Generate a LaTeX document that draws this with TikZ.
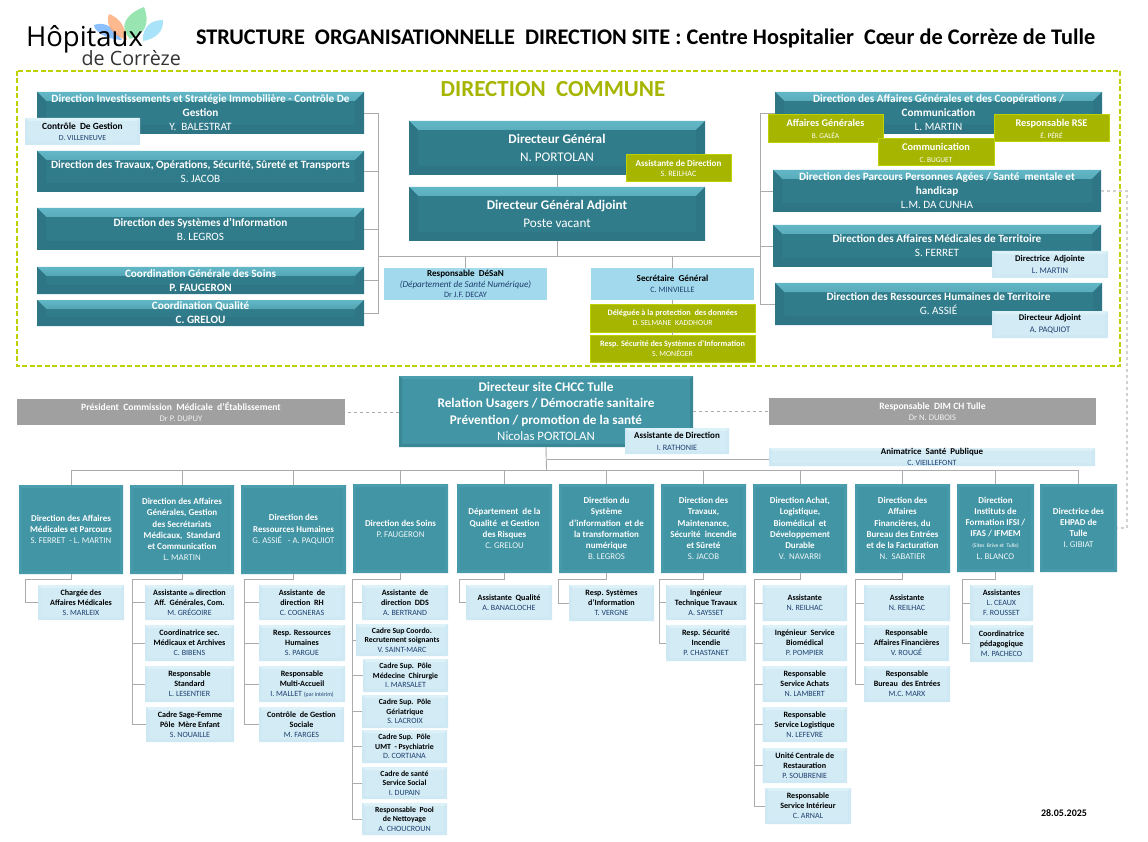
\documentclass[tikz,border=0pt]{standalone}
\usepackage{xcolor}
\usepackage{fontspec}
\setmainfont{Carlito}
\newfontfamily\logofont{Open Sans}
\usepackage{tikz}
\usetikzlibrary{positioning, arrows.meta, shadings}

\definecolor{tealbody}{HTML}{317C8B}
\definecolor{tealhigh}{HTML}{62B7C6}
\definecolor{teallow}{HTML}{34818F}
\definecolor{tealside}{HTML}{2E7685}
\definecolor{sitecolor}{HTML}{4295A4}
\definecolor{sitehigh}{HTML}{4B9EAD}
\definecolor{siteside}{HTML}{3A8795}
\definecolor{rowside}{HTML}{479AA9}
\definecolor{palecolor}{HTML}{D2EBF5}
\definecolor{palehigh}{HTML}{DDF1F8}
\definecolor{paleside}{HTML}{CEE9F4}
\definecolor{skycolor}{HTML}{A2D9EC}
\definecolor{olivecolor}{HTML}{A6B500}
\definecolor{oliveedge}{HTML}{BDD000}
\definecolor{greycolor}{HTML}{A0A0A0}
\definecolor{linkcolor}{HTML}{ABABAB}
\definecolor{namecolor}{HTML}{1F3F6F}

\newcommand{\who}[1]{{\mdseries\color{whocolor}\whosize #1}}
\colorlet{whocolor}{white}
\newcommand{\whosize}{}
\newcommand{\boxfont}[4]{\fontsize{#1}{#2}\selectfont\bfseries\colorlet{whocolor}{#3}\def\whosize{\fontsize{#4}{#2}\selectfont}}

\begin{document}
\begin{tikzpicture}[x=1pt, y=-1pt]

	% Styles
	\tikzset{
		span/.style n args={4}{
			minimum width={(#3-#1)*1pt}, minimum height={(#4-#2)*1pt},
			at={({(#1+#3)/2},{(#2+#4)/2})}
		},
		bevel/.style n args={4}{
			path picture={
				\shade[top color=#2, bottom color=#3]
					(path picture bounding box.north west) -- (path picture bounding box.north east)
					-- ([xshift=-#1pt,yshift=-#1pt]path picture bounding box.north east)
					-- ([xshift=#1pt,yshift=-#1pt]path picture bounding box.north west) -- cycle;
				\fill[#4]
					(path picture bounding box.north west) -- ([xshift=#1pt,yshift=-#1pt]path picture bounding box.north west)
					-- ([xshift=#1pt,yshift=#1pt]path picture bounding box.south west) -- (path picture bounding box.south west) -- cycle;
				\fill[#4]
					(path picture bounding box.north east) -- ([xshift=-#1pt,yshift=-#1pt]path picture bounding box.north east)
					-- ([xshift=-#1pt,yshift=#1pt]path picture bounding box.south east) -- (path picture bounding box.south east) -- cycle;
				\fill[#4]
					(path picture bounding box.south west) -- ([xshift=#1pt,yshift=#1pt]path picture bounding box.south west)
					-- ([xshift=-#1pt,yshift=#1pt]path picture bounding box.south east) -- (path picture bounding box.south east) -- cycle;
			}
		},
		basebox/.style={
			rectangle, inner sep=0pt, outer sep=0pt, align=center
		},
		tealbox/.style={
			basebox, fill=tealbody, text=white, bevel={9}{tealhigh}{teallow}{tealside},
			font=\boxfont{11.2}{14}{white}{11.2}
		},
		chiefbox/.style={
			tealbox, font=\boxfont{13.2}{17.5}{white}{13.2}
		},
		sitebox/.style={
			basebox, fill=sitecolor, text=white, bevel={3}{sitehigh}{sitecolor}{siteside},
			font=\boxfont{13.2}{16.5}{white}{12.8}
		},
		rowbox/.style={
			basebox, fill=sitecolor, text=white, bevel={3}{sitehigh}{sitecolor}{rowside},
			font=\boxfont{9}{11.2}{white!92!sitecolor}{8.8}
		},
		palebox/.style={
			basebox, fill=palecolor, text=black, bevel={3}{palehigh}{palecolor}{paleside},
			font=\boxfont{8.1}{10}{namecolor}{8}
		},
		skybox/.style={
			basebox, fill=skycolor, text=black, font=\boxfont{9.1}{10.6}{namecolor}{8.2}
		},
		olivebox/.style={
			basebox, draw=oliveedge, line width=1pt, fill=olivecolor, text=white,
			font=\boxfont{8.2}{10}{white}{7.8}
		},
		greybox/.style={
			basebox, fill=greycolor, text=white,
			font=\boxfont{9.6}{11.5}{white!85!greycolor}{8.6}
		},
		link/.style={draw=linkcolor, line width=0.9pt},
		dashlink/.style={draw=linkcolor, line width=0.9pt, dashed},
		rail/.style={draw=black!18, line width=1.6pt, dashed}
	}

	\useasboundingbox (0,0) rectangle (1148,842);

	% Logo
	\fill[blue!55!cyan!60!white, fill opacity=.75] (122,40) .. controls (112,24) and (102,22) .. (94,25) .. controls (94,31) and (105,39) .. (122,40) -- cycle;
	\fill[orange!75!red!55!white, fill opacity=.8] (127,40) .. controls (126,28) and (120,18) .. (109,14) .. controls (105,24) and (112,36) .. (127,40) -- cycle;
	\fill[green!50!teal!50!white, fill opacity=.8] (130,39) .. controls (118,26) and (126,14) .. (144,7) .. controls (150,22) and (146,34) .. (130,39) -- cycle;
	\fill[cyan!45!white, fill opacity=.75] (143,41) .. controls (142,28) and (150,20) .. (163,20) .. controls (164,31) and (156,39) .. (143,41) -- cycle;
	\node (logotop) [basebox, anchor=west, font=\logofont\fontsize{27.5}{28}\selectfont] at (26,39) {Hôpitaux};
	\node (logobottom) [basebox, anchor=east, font=\logofont\fontsize{19.7}{20}\selectfont, text=black!80] at (181,58) {de Corrèze};

	% Title
	\node (title) [basebox, anchor=west, font=\fontsize{22.3}{26}\selectfont\bfseries] at (196,38)
		{STRUCTURE~~ORGANISATIONNELLE~~DIRECTION SITE : Centre Hospitalier~~Cœur de Corrèze de Tulle};
	\node (datenote) [basebox, font=\fontsize{10}{12}\selectfont\bfseries] at (1064,813) {28.05.2025};

	% Direction commune
	\draw[draw=oliveedge, line width=2pt, dash pattern=on 5pt off 2.5pt] (17,71) rectangle (1120,366);
	\node (commune) [basebox, font=\fontsize{23}{28}\selectfont\bfseries, text=olivecolor] at (553,89) {DIRECTION~~COMMUNE};

	% Left directions
	\node (invest) [tealbox, span={37}{92}{364}{134}] {Direction Investissements et Stratégie Immobilière - Contrôle De\\Gestion\\\who{Y.~~BALESTRAT}};
	\node (controle) [palebox, span={25}{118}{140}{145}, font=\boxfont{9.4}{11}{namecolor}{7.8}] {Contrôle~~De Gestion\\\who{D. VILLENEUVE}};
	\node (travaux) [tealbox, span={37}{151}{364}{192}] {Direction des Travaux, Opérations, Sécurité, Sûreté et Transports\\\who{S. JACOB}};
	\node (systemes) [tealbox, span={37}{208}{364}{250}] {Direction des Systèmes d’Information\\\who{B. LEGROS}};
	\node (soinsgen) [tealbox, span={37}{267}{364}{294}] {Coordination Générale des Soins\\P. FAUGERON};
	\node (qualite) [tealbox, span={37}{300}{364}{326}] {Coordination Qualité\\C. GRELOU};

	% Centre
	\node (dg) [chiefbox, span={409}{121}{705}{175}] {Directeur Général\\\who{N. PORTOLAN}};
	\node (dga) [chiefbox, span={409}{187}{705}{241}] {Directeur Général Adjoint\\\who{Poste vacant}};
	\node (assdg) [olivebox, span={626}{155}{731}{182}, font=\boxfont{9}{10}{white}{8.2}] {Assistante de Direction\\\who{S. REILHAC}};
	\node (desan) [skybox, span={384}{268}{547}{300}] {Responsable~~DéSaN\\{\mdseries\itshape\color{namecolor}(Département de Santé Numérique)}\\\who{Dr J.F. DECAY}};
	\node (sg) [skybox, span={591}{268}{754}{300}] {Secrétaire~~Général\\\who{C. MINVIELLE}};
	\node (dpo) [olivebox, span={590}{304}{755}{332}] {Déléguée à la protection~~des données\\\who{D. SELMANE~~KADDHOUR}};
	\node (rssi) [olivebox, span={590}{335}{755}{362}] {Resp. Sécurité des Systèmes d’Information\\\who{S. MONÉGER}};

	% Right directions
	\node (affgen) [tealbox, span={775}{92}{1102}{134}] {Direction des Affaires Générales et des Coopérations /\\Communication\\\who{L. MARTIN}};
	\node (agbox) [olivebox, span={768}{115}{883}{143}, font=\boxfont{10.3}{12}{white}{7.4}] {Affaires Générales\\\who{B. GALÉA}};
	\node (rse) [olivebox, span={994}{115}{1109}{142}, font=\boxfont{10.3}{12}{white}{7.4}] {Responsable RSE\\\who{É. PÉRÉ}};
	\node (comm) [olivebox, span={878}{139}{994}{166}, font=\boxfont{10.3}{12}{white}{7.4}] {Communication\\\who{C. BUGUET}};
	\node (parcours) [tealbox, span={773}{170}{1101}{212}] {Direction des Parcours Personnes Agées / Santé~~mentale et\\handicap\\\who{L.M. DA CUNHA}};
	\node (affmed) [tealbox, span={773}{225}{1101}{267}] {Direction des Affaires Médicales de Territoire\\\who{S. FERRET}};
	\node (adjmed) [palebox, span={992}{251}{1108}{278}, font=\boxfont{8.7}{12}{namecolor}{8.5}] {Directrice~~Adjointe\\\who{L. MARTIN}};
	\node (rhterr) [tealbox, span={775}{283}{1102}{325}] {Direction des Ressources Humaines de Territoire\\\who{G. ASSIÉ}};
	\node (adjrh) [palebox, span={992}{311}{1108}{338}, font=\boxfont{8.7}{12}{namecolor}{8.5}] {Directeur Adjoint\\\who{A. PAQUIOT}};

	% Direction commune links
	\coordinate (busleft) at (378,256);
	\coordinate (busright) at (760,256);
	\draw[link] (busleft) -- (busright);
	\foreach \lead in {invest,travaux,systemes,soinsgen,qualite}
		\draw[link] (\lead.east) -| (busleft);
	\foreach \lead in {affgen,parcours,affmed,rhterr}
		\draw[link] (\lead.west) -| (busright);
	\draw[link] (dg) -- (dga);
	\draw[link] (dga.south) -- (dga.south |- busleft);
	\draw[link] (desan.north) -- (desan.north |- busleft);
	\draw[link] (sg.north) -- (sg.north |- busleft);
	\draw[link] (sg) -- (dpo);
	\draw[link] (dpo) -- (rssi);

	% Site
	\node (site) [sitebox, span={399}{376}{693}{447}] {Directeur site CHCC Tulle\\Relation Usagers / Démocratie sanitaire\\Prévention / promotion de la santé\\\who{Nicolas PORTOLAN}};
	\node (cme) [greybox, span={17}{399}{345}{425}] {Président~~Commission~~Médicale~~d’Établissement\\\who{Dr P. DUPUY}};
	\node (dim) [greybox, span={769}{398}{1096}{425}] {Responsable~~DIM CH Tulle\\\who{Dr N. DUBOIS}};
	\node (asssite) [palebox, span={625}{428}{729}{454}, font=\boxfont{9}{12}{namecolor}{8.2}] {Assistante de Direction\\\who{I. RATHONIE}};
	\node (santepub) [palebox, span={769}{448}{1095}{466}, font=\boxfont{8.9}{10.5}{namecolor}{8}] {Animatrice~~Santé~~Publique\\\who{C. VIEILLEFONT}};
	\draw[dashlink] (site.west |- cme.east) -- (cme.east);
	\draw[dashlink] (site.east |- dim.west) -- (dim.west);

	% Site directions
	\node (col1) [rowbox, span={19}{485}{123}{574}] {Direction des Affaires\\Médicales et Parcours\\\who{S. FERRET~~- L. MARTIN}};
	\node (col2) [rowbox, span={130}{485}{234}{574}] {Direction des Affaires\\Générales, Gestion\\des Secrétariats\\Médicaux,~~Standard\\et Communication\\\who{L. MARTIN}};
	\node (col3) [rowbox, span={241}{485}{346}{574}] {Direction des\\Ressources Humaines\\\who{G. ASSIÉ~~~- A. PAQUIOT}};
	\node (col4) [rowbox, span={353}{484}{448}{573}] {Direction des Soins\\\who{P. FAUGERON}};
	\node (col5) [rowbox, span={457}{484}{552}{573}] {Département~~de la\\Qualité~~et Gestion\\des Risques\\\who{C. GRELOU}};
	\node (col6) [rowbox, span={559}{484}{654}{573}] {Direction du\\Système\\d’information~~et de\\la transformation\\numérique\\\who{B. LEGROS}};
	\node (col7) [rowbox, span={661}{484}{746}{573}] {Direction des\\Travaux,\\Maintenance,\\Sécurité~~incendie\\et Sûreté\\\who{S. JACOB}};
	\node (col8) [rowbox, span={753}{484}{847}{573}] {Direction Achat,\\Logistique,\\Biomédical~~et\\Développement\\Durable\\\who{V.~~NAVARRI}};
	\node (col9) [rowbox, span={855}{484}{950}{573}] {Direction des\\Affaires\\Financières, du\\Bureau des Entrées\\et de la Facturation\\\who{N.~~SABATIER}};
	\node (col10) [rowbox, span={957}{484}{1034}{572}] {Direction\\Instituts de\\Formation IFSI /\\IFAS / IFMEM\\{\mdseries\fontsize{5.5}{7}\selectfont (Sites~~Brive et~~Tulle)}\\\who{L. BLANCO}};
	\node (col11) [rowbox, span={1040}{484}{1117}{572}] {Directrice des\\EHPAD de\\Tulle\\\who{I. GIBIAT}};

	% Site links
	\coordinate (busrow) at (546.5,470);
	\draw[link] (site.south) -- (busrow);
	\draw[link] ([yshift=-2.5pt]santepub.west) -- ([yshift=-2.5pt]santepub.west -| busrow);
	\draw[link] (col1.north |- busrow) -- (col11.north |- busrow);
	\foreach \i in {1,...,11}
		\draw[link] (col\i.north) -- (col\i.north |- busrow);
	\draw[rail] (parcours.east) -- ++(26,0) |- (col11.east);

	% Teams
	\node (s11) [palebox, span={38}{585}{124}{620}] {Chargée des\\Affaires Médicales\\\who{S. MARLEIX}};

	\node (s21) [palebox, span={145}{585}{234}{620}] {Assistante {\fontsize{4.5}{6}\selectfont de} direction\\Aff.~~Générales, Com.\\\who{M. GRÉGOIRE}};
	\node (s22) [palebox, span={145}{625}{234}{661}] {Coordinatrice sec.\\Médicaux et Archives\\\who{C. BIBENS}};
	\node (s23) [palebox, span={145}{666}{234}{702}] {Responsable\\Standard\\\who{L. LESENTIER}};
	\node (s24) [palebox, span={146}{707}{234}{742}] {Cadre Sage-Femme\\Pôle~~Mère Enfant\\\who{S. NOUAILLE}};

	\node (s31) [palebox, span={259}{585}{345}{620}] {Assistante~~de\\direction~~RH\\\who{C. COGNERAS}};
	\node (s32) [palebox, span={259}{625}{345}{661}] {Resp. Ressources\\Humaines\\\who{S. PARGUE}};
	\node (s33) [palebox, span={259}{666}{345}{702}] {Responsable\\Multi-Accueil\\\who{I. MALLET {\fontsize{5.8}{7}\selectfont (par intérim)}}};
	\node (s34) [palebox, span={259}{707}{344}{742}] {Contrôle~~de Gestion\\Sociale\\\who{M. FARGES}};

	\node (s41) [palebox, span={362}{585}{448}{620}] {Assistante~~de\\direction~~DDS\\\who{A. BERTRAND}};
	\node (s42) [palebox, span={356}{624}{448}{656}, font=\boxfont{7.8}{9.5}{namecolor}{8}] {Cadre Sup Coordo.\\Recrutement soignants\\\who{V. SAINT-MARC}};
	\node (s43) [palebox, span={363}{659}{448}{692}, font=\boxfont{7.8}{9.5}{namecolor}{8}] {Cadre Sup.~~Pôle\\Médecine~~Chirurgie\\\who{I. MARSALET}};
	\node (s44) [palebox, span={362}{695}{448}{728}, font=\boxfont{7.8}{9.5}{namecolor}{8}] {Cadre Sup.~~Pôle\\Gériatrique\\\who{S. LACROIX}};
	\node (s45) [palebox, span={362}{730}{447}{763}, font=\boxfont{7.8}{9.5}{namecolor}{8}] {Cadre Sup.~~Pôle\\UMT~~- Psychiatrie\\\who{D. CORTIANA}};
	\node (s46) [palebox, span={362}{767}{447}{799}, font=\boxfont{7.8}{9.5}{namecolor}{8}] {Cadre de santé\\Service Social\\\who{I. DUPAIN}};
	\node (s47) [palebox, span={362}{803}{447}{835}, font=\boxfont{7.8}{9.5}{namecolor}{8}] {Responsable~~Pool\\de Nettoyage\\\who{A. CHOUCROUN}};

	\node (s51) [palebox, span={466}{585}{552}{620}] {Assistante~~Qualité\\\who{A. BANACLOCHE}};

	\node (s61) [palebox, span={569}{585}{654}{621}] {Resp. Systèmes\\d’Information\\\who{T. VERGNE}};

	\node (s71) [palebox, span={666}{585}{746}{620}] {Ingénieur\\Technique Travaux\\\who{A. SAYSSET}};
	\node (s72) [palebox, span={666}{625}{746}{661}] {Resp. Sécurité\\Incendie\\\who{P. CHASTANET}};

	\node (s81) [palebox, span={762.5}{585}{847}{621}] {Assistante\\\who{N. REILHAC}};
	\node (s82) [palebox, span={762.5}{625}{847}{661}] {Ingénieur~~Service\\Biomédical\\\who{P. POMPIER}};
	\node (s83) [palebox, span={762.5}{666}{847}{702}] {Responsable\\Service Achats\\\who{N. LAMBERT}};
	\node (s84) [palebox, span={762.5}{707}{847}{742}] {Responsable\\Service Logistique\\\who{N. LEFEVRE}};
	\node (s85) [palebox, span={762.5}{748}{847}{783}] {Unité Centrale de\\Restauration\\\who{P. SOUBRENIE}};
	\node (s86) [palebox, span={765}{788}{851}{824}] {Responsable\\Service Intérieur\\\who{C. ARNAL}};

	\node (s91) [palebox, span={864}{585}{950}{621}] {Assistante\\\who{N. REILHAC}};
	\node (s92) [palebox, span={864}{625}{949}{661}] {Responsable\\Affaires Financières\\\who{V. ROUGÉ}};
	\node (s93) [palebox, span={864}{666}{950}{702}] {Responsable\\Bureau~~des Entrées\\\who{M.C. MARX}};

	\node (s101) [palebox, span={970}{585}{1033}{621}] {Assistantes\\\who{L. CEAUX}\\\who{F. ROUSSET}};
	\node (s102) [palebox, span={970}{625}{1033}{662}] {Coordinatrice\\pédagogique\\\who{M. PACHECO}};

	% Team links
	\coordinate (rail1) at (25,579);
	\coordinate (rail2) at (132,579);
	\coordinate (rail3) at (244,579);
	\coordinate (rail4) at (352,579);
	\coordinate (rail5) at (459,579);
	\coordinate (rail6) at (558.5,579);
	\coordinate (rail7) at (659.5,579);
	\coordinate (rail8) at (754.5,579);
	\coordinate (rail9) at (855.5,579);
	\coordinate (rail10) at (962,579);
	\foreach \i in {1,...,10}
		\draw[link] (col\i.south) |- (rail\i);
	\foreach \sub/\i in {s11/1,s21/2,s22/2,s23/2,s24/2,s31/3,s32/3,s33/3,s34/3,s41/4,s42/4,s43/4,s44/4,s45/4,s46/4,s47/4,s51/5,s61/6,s71/7,s72/7,s81/8,s82/8,s83/8,s84/8,s85/8,s86/8,s91/9,s92/9,s93/9,s101/10,s102/10}
		\draw[link] (rail\i) |- (\sub.west);

\end{tikzpicture}
\end{document}
